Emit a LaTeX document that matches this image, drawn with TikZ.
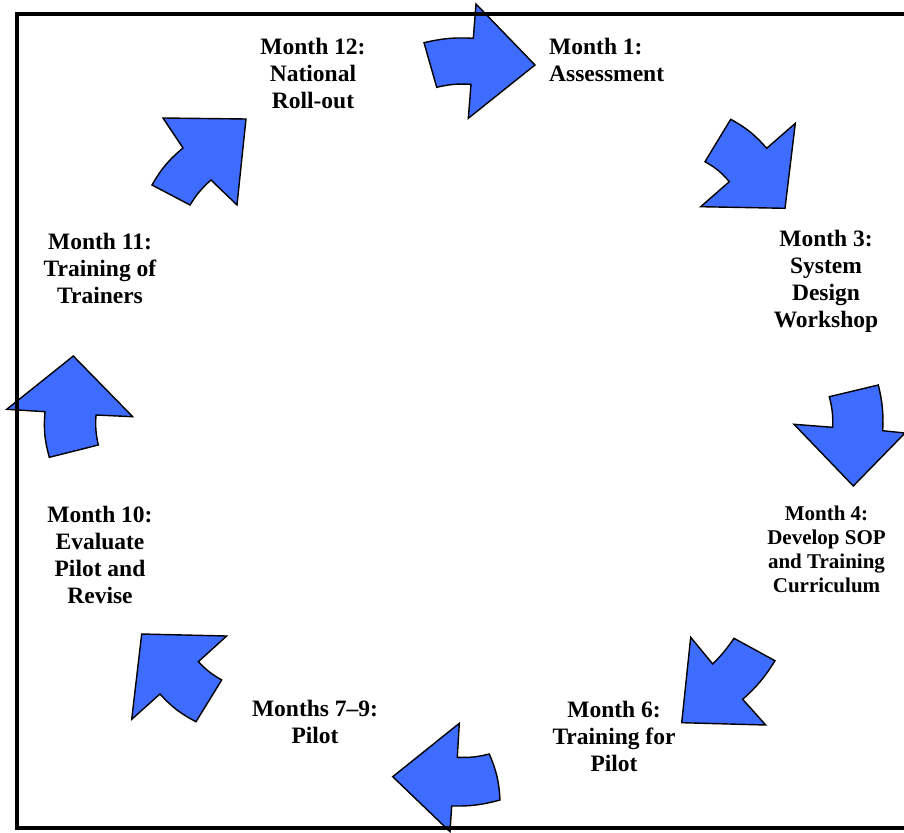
\documentclass[tikz,border=0pt]{standalone}
\usepackage{fontspec}
\setmainfont{Liberation Serif}
\definecolor{arrblue}{RGB}{62,108,255}
\begin{document}
\begin{tikzpicture}[x=1pt,y=-1pt,
  blk/.style={fill=arrblue,draw=black,line width=1.4pt,line join=miter},
  lbl/.style={font=\fontsize{23.5}{27}\selectfont\bfseries,align=center,inner sep=0pt},
  lblsmall/.style={font=\fontsize{21}{24}\selectfont\bfseries,align=center,inner sep=0pt},
  frm/.style={line width=4pt}]
\useasboundingbox (0,0) rectangle (904,832);
% arrows
\draw[blk] (424,42.7) to[bend left=8] (473.3,38.3) -- (476,4) -- (535,65) -- (468.3,118.3) -- (471,84.3) to[bend right=8] (436.7,87.3) -- cycle;
\draw[blk] (729.3,181.7) to[bend right=10] (705,161.7) -- (730.7,119.3) to[bend left=10] (766.7,148.3) -- (795.3,123.3) -- (785,208.3) -- (700.7,206.7) -- cycle;
\draw[blk] (832.7,427.3) to[bend right=8] (829.3,396.7) -- (878.3,385) to[bend left=8] (882.7,430.7) -- (905,433) -- (853.3,486) -- (794,424.3) -- cycle;
\draw[blk] (712.7,664) to[bend right=5] (734,638.3) -- (775,660.7) to[bend left=8] (742.7,699.3) -- (765.7,725) -- (681.7,722.7) -- (690.7,637.3) -- cycle;
\draw[blk] (457.3,757.3) to[bend right=8] (489.3,754) to[bend left=10] (500,800) to[bend left=8] (451.7,806) -- (450,831.7) -- (392.7,776.7) -- (459.3,723.3) -- cycle;
\draw[blk] (198.3,661.7) to[bend right=8] (221.7,680) -- (196,721.7) to[bend left=10] (160,694) -- (131.7,719.3) -- (141.7,634) -- (226.7,636) -- cycle;
\draw[blk] (96,415) to[bend right=8] (98.3,445) -- (49.3,457.3) to[bend left=10] (45,411.7) -- (6.7,409.3) -- (73.3,356) -- (132.7,416.7) -- cycle;
\draw[blk] (211,180) to[bend right=8] (190,205) -- (152,185) to[bend left=10] (183,148) -- (163,118) -- (246,119) -- (237,205) -- cycle;
% labels
\node[lbl] (m12) at (313,73) {Month 12:\\National\\Roll-out};
\node[lbl,align=left,anchor=west] (m1) at (549,59.5) {Month 1:\\Assessment};
\node[lbl] (m3) at (826,281) {Month 3:\\System\\Design\\Workshop};
\node[lblsmall] (m4) at (826.5,549) {Month 4:\\Develop SOP\\and Training\\Curriculum};
\node[lbl] (m6) at (614,736) {Month 6:\\Training for\\Pilot};
\node[lbl] (m79) at (315,722) {Months 7–9:\\Pilot};
\node[lbl] (m10) at (100,555) {Month 10:\\Evaluate\\Pilot and\\Revise};
\node[lbl] (m11) at (100,268) {Month 11:\\Training of\\Trainers};
% frame
\draw[frm] (912,14) -- (17,14) -- (17,828) -- (912,828);
\end{tikzpicture}
\end{document}
